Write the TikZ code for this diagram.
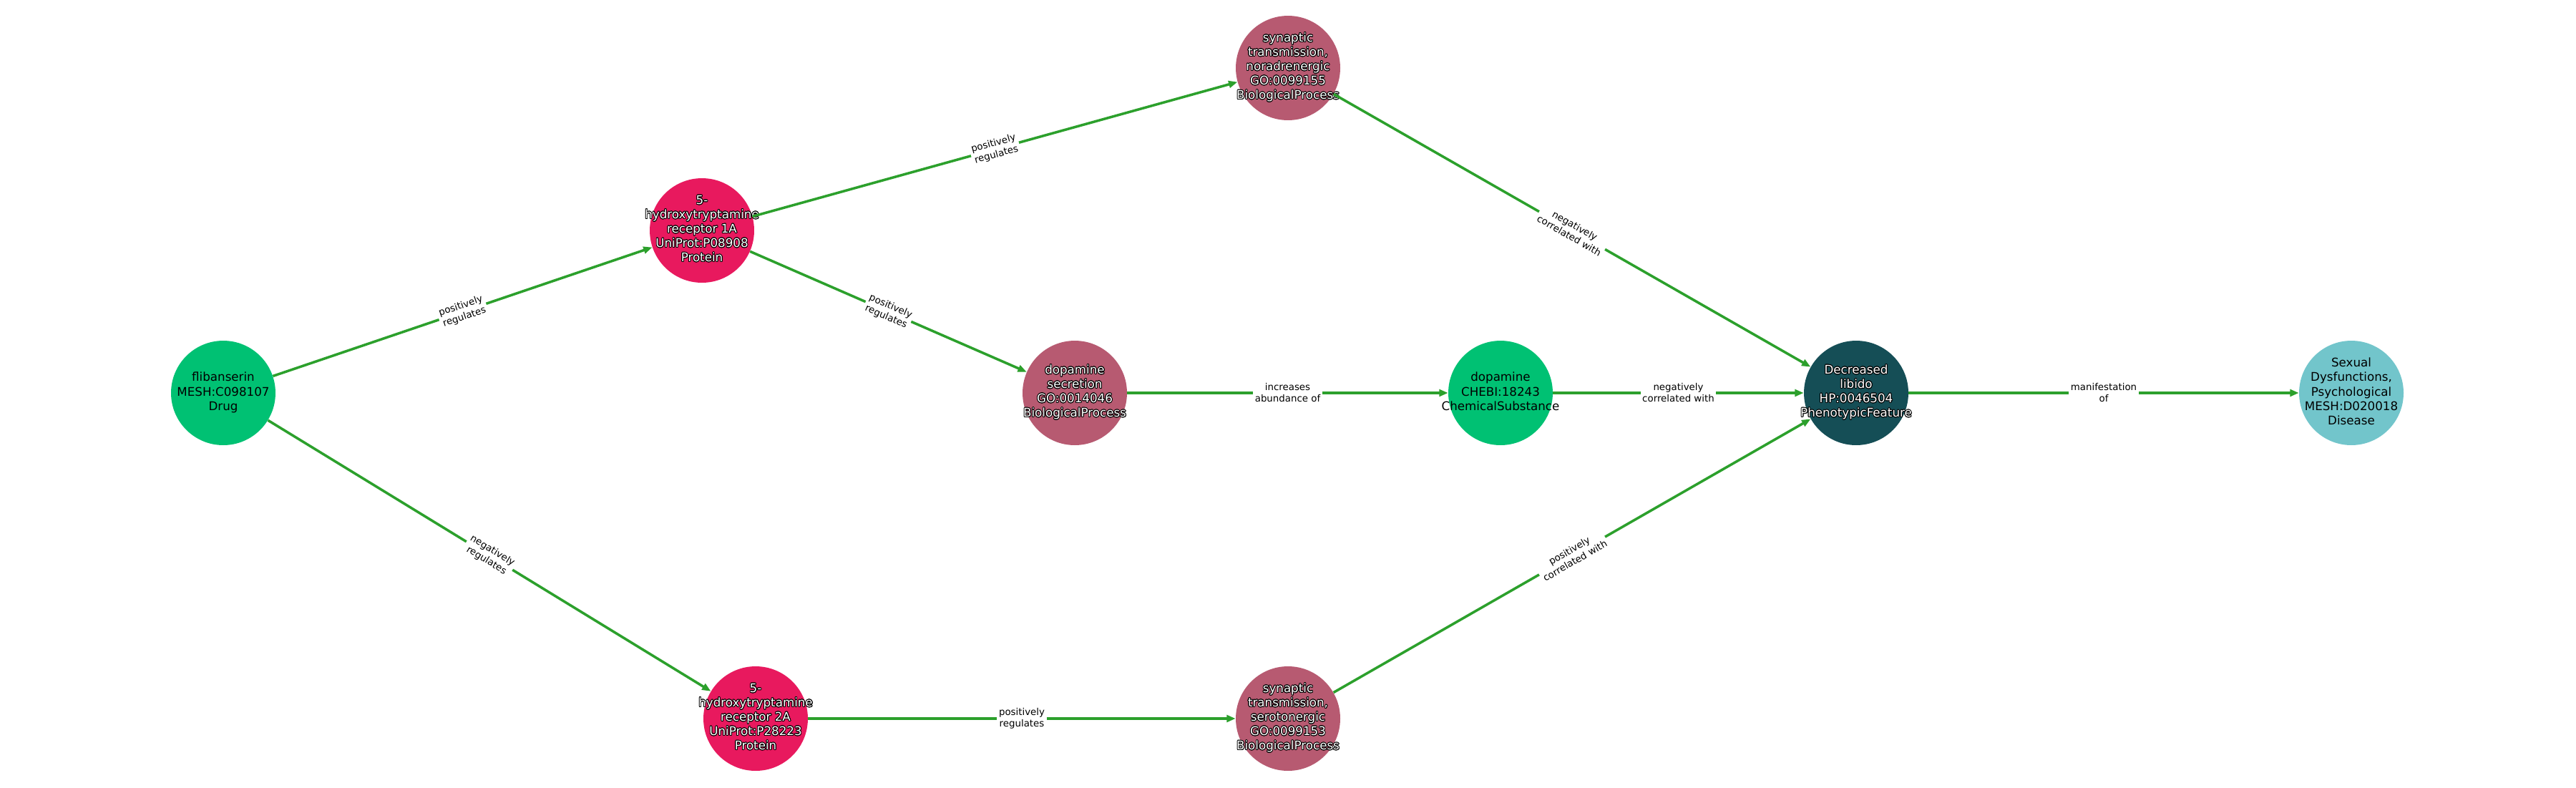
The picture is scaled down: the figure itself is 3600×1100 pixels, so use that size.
\documentclass[tikz,border=0pt]{standalone}
\usepackage{fontspec}
\setmainfont{DejaVu Sans}
\usepackage[copies]{contour}
\contourlength{0.5pt}
\usetikzlibrary{arrows.meta}
\definecolor{edgegreen}{RGB}{44,160,44}
\definecolor{drugc}{RGB}{0,193,115}
\definecolor{protc}{RGB}{232,25,94}
\definecolor{procc}{RGB}{183,90,113}
\definecolor{phenc}{RGB}{21,78,86}
\definecolor{disc}{RGB}{114,197,203}
\newcommand{\blines}[1]{\begin{tabular}{@{}c@{}}#1\end{tabular}}
\newcommand{\wlines}[1]{\contour{black}{\begin{tabular}{@{}c@{}}#1\end{tabular}}}
\tikzset{
  ent/.style={circle, minimum size=2.92cm, inner sep=0pt, draw=none},
  lbl/.style={font=\fontsize{9.5}{11.4}\selectfont, inner sep=0pt},
  rel/.style={draw=edgegreen, line width=2pt, -{Triangle[length=7pt,width=5.5pt]}},
  rlab/.style={midway, sloped, fill=white, inner sep=1.5pt, align=center,
    font=\fontsize{7.6}{9.1}\selectfont, text=black}
}
\begin{document}
\begin{tikzpicture}[x=0.02cm, y=-0.02cm]
\fill[white] (0,0) rectangle (3600,1100);
\useasboundingbox (0,0) rectangle (3600,1100);

\node[ent, fill=drugc, label={[lbl,text=black]center:\blines{flibanserin\\MESH:C098107\\Drug}}] (flib) at (312,549) {};
\node[ent, fill=protc, label={[lbl,text=white]center:\wlines{5-\\hydroxytryptamine\\receptor 1A\\UniProt:P08908\\Protein}}] (ht1a) at (981,322) {};
\node[ent, fill=procc, label={[lbl,text=white]center:\wlines{synaptic\\transmission,\\noradrenergic\\GO:0099155\\BiologicalProcess}}] (nor) at (1800,95) {};
\node[ent, fill=procc, label={[lbl,text=white]center:\wlines{dopamine\\secretion\\GO:0014046\\BiologicalProcess}}] (dsec) at (1502,549) {};
\node[ent, fill=drugc, label={[lbl,text=black]center:\blines{dopamine\\CHEBI:18243\\ChemicalSubstance}}] (dop) at (2097,549) {};
\node[ent, fill=phenc, label={[lbl,text=white]center:\wlines{Decreased\\libido\\HP:0046504\\PhenotypicFeature}}] (lib) at (2594,549) {};
\node[ent, fill=disc, label={[lbl,text=black]center:\blines{Sexual\\Dysfunctions,\\Psychological\\MESH:D020018\\Disease}}] (sex) at (3286,549) {};
\node[ent, fill=protc, label={[lbl,text=white]center:\wlines{5-\\hydroxytryptamine\\receptor 2A\\UniProt:P28223\\Protein}}] (ht2a) at (1056,1004) {};
\node[ent, fill=procc, label={[lbl,text=white]center:\wlines{synaptic\\transmission,\\serotonergic\\GO:0099153\\BiologicalProcess}}] (ser) at (1800,1004) {};

\draw[rel] (flib) -- node[rlab]{positively\\regulates} (ht1a);
\draw[rel] (flib) -- node[rlab]{negatively\\regulates} (ht2a);
\draw[rel] (ht1a) -- node[rlab]{positively\\regulates} (nor);
\draw[rel] (ht1a) -- node[rlab]{positively\\regulates} (dsec);
\draw[rel] (nor) -- node[rlab]{negatively\\correlated with} (lib);
\draw[rel] (dsec) -- node[rlab]{increases\\abundance of} (dop);
\draw[rel] (dop) -- node[rlab]{negatively\\correlated with} (lib);
\draw[rel] (lib) -- node[rlab]{manifestation\\of} (sex);
\draw[rel] (ht2a) -- node[rlab]{positively\\regulates} (ser);
\draw[rel] (ser) -- node[rlab]{positively\\correlated with} (lib);
\end{tikzpicture}
\end{document}
